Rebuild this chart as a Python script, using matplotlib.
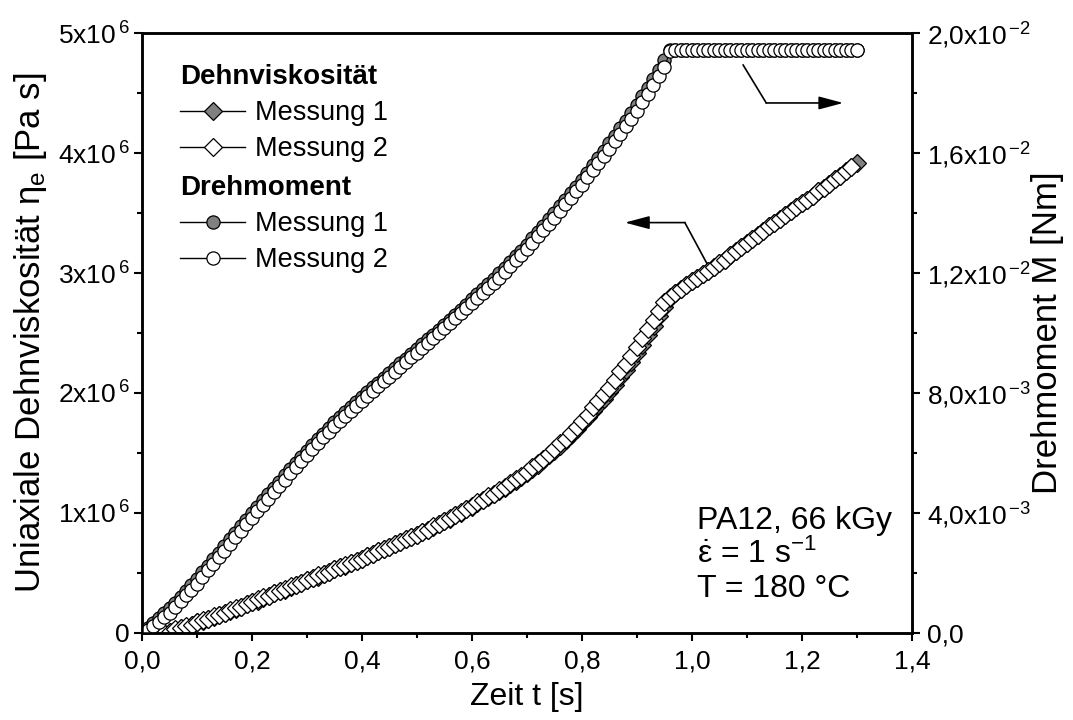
import numpy as np
import matplotlib
matplotlib.use("Agg")
import matplotlib.pyplot as plt
from matplotlib.lines import Line2D
from matplotlib.ticker import MultipleLocator, FuncFormatter

plt.rcParams['font.family'] = ['Liberation Sans', 'DejaVu Sans']
plt.rcParams['mathtext.fontset'] = 'custom'
plt.rcParams['mathtext.rm'] = 'Liberation Sans'
plt.rcParams['mathtext.it'] = 'Liberation Sans:italic'
plt.rcParams['mathtext.bf'] = 'Liberation Sans:bold'

# ---------------- data ----------------
# torque (Drehmoment), 1e-3 Nm, sampled every 0.01 s from 0.01 s to 1.30 s
t_torque = np.arange(1, 131) / 100.0
torque_m1 = [
    0.18, 0.34, 0.50, 0.66, 0.83, 1.01, 1.20, 1.40, 1.60, 1.80,
    2.02, 2.24, 2.46, 2.68, 2.90, 3.12, 3.34, 3.56, 3.78, 4.00,
    4.21, 4.42, 4.63, 4.84, 5.05, 5.26, 5.46, 5.67, 5.88, 6.08,
    6.27, 6.46, 6.65, 6.84, 7.02, 7.19, 7.36, 7.53, 7.70, 7.87,
    8.03, 8.19, 8.35, 8.51, 8.67, 8.83, 8.99, 9.15, 9.31, 9.47,
    9.63, 9.79, 9.95, 10.11, 10.27, 10.44, 10.61, 10.78, 10.95, 11.12,
    11.29, 11.46, 11.63, 11.81, 11.99, 12.18, 12.37, 12.56, 12.75, 12.95,
    13.16, 13.37, 13.58, 13.79, 14.00, 14.22, 14.44, 14.66, 14.88, 15.11,
    15.35, 15.59, 15.83, 16.07, 16.32, 16.57, 16.82, 17.07, 17.33, 17.60,
    17.89, 18.18, 18.47, 18.76, 19.10, 19.43, 19.43, 19.43, 19.43, 19.43,
    19.43, 19.43, 19.43, 19.43, 19.43, 19.43, 19.43, 19.43, 19.43, 19.43,
    19.43, 19.43, 19.43, 19.43, 19.43, 19.43, 19.43, 19.43, 19.43, 19.43,
    19.43, 19.43, 19.43, 19.43, 19.43, 19.43, 19.43, 19.43, 19.43, 19.43,
]
torque_m2 = [
    0.10, 0.24, 0.38, 0.53, 0.68, 0.87, 1.06, 1.26, 1.45, 1.65,
    1.87, 2.09, 2.31, 2.53, 2.75, 2.97, 3.19, 3.41, 3.63, 3.85,
    4.06, 4.27, 4.48, 4.69, 4.90, 5.11, 5.32, 5.53, 5.74, 5.95,
    6.14, 6.33, 6.52, 6.71, 6.90, 7.07, 7.24, 7.41, 7.58, 7.75,
    7.91, 8.07, 8.23, 8.39, 8.55, 8.71, 8.87, 9.03, 9.19, 9.35,
    9.51, 9.67, 9.83, 9.99, 10.15, 10.32, 10.49, 10.66, 10.83, 11.00,
    11.17, 11.34, 11.51, 11.68, 11.85, 12.04, 12.23, 12.42, 12.61, 12.80,
    13.01, 13.22, 13.43, 13.64, 13.85, 14.07, 14.29, 14.51, 14.73, 14.95,
    15.19, 15.43, 15.67, 15.91, 16.15, 16.40, 16.65, 16.90, 17.15, 17.40,
    17.69, 17.98, 18.27, 18.56, 18.85, 19.40, 19.43, 19.43, 19.43, 19.43,
    19.43, 19.43, 19.43, 19.43, 19.43, 19.43, 19.43, 19.43, 19.43, 19.43,
    19.43, 19.43, 19.43, 19.43, 19.43, 19.43, 19.43, 19.43, 19.43, 19.43,
    19.43, 19.43, 19.43, 19.43, 19.43, 19.43, 19.43, 19.43, 19.43, 19.43,
]

# uniaxial extensional viscosity, 1e6 Pa s
t_visc_m1 = np.arange(4, 131) / 100.0   # 0.04 ... 1.30 s
visc_m1 = [
    0.00, 0.01, 0.02, 0.04, 0.05, 0.07, 0.09, 0.10, 0.12, 0.13,
    0.15, 0.17, 0.18, 0.20, 0.22, 0.24, 0.26, 0.27, 0.29, 0.31,
    0.33, 0.35, 0.36, 0.38, 0.40, 0.42, 0.44, 0.46, 0.47, 0.49,
    0.51, 0.53, 0.55, 0.56, 0.58, 0.60, 0.62, 0.64, 0.66, 0.68,
    0.70, 0.72, 0.74, 0.76, 0.78, 0.80, 0.82, 0.84, 0.86, 0.88,
    0.91, 0.93, 0.95, 0.98, 1.00, 1.03, 1.05, 1.08, 1.11, 1.13,
    1.16, 1.18, 1.21, 1.24, 1.27, 1.30, 1.33, 1.37, 1.40, 1.44,
    1.48, 1.52, 1.56, 1.61, 1.65, 1.70, 1.75, 1.80, 1.85, 1.90,
    1.95, 2.01, 2.07, 2.13, 2.19, 2.26, 2.33, 2.40, 2.48, 2.56,
    2.64, 2.72, 2.79, 2.83, 2.87, 2.90, 2.93, 2.96, 2.99, 3.02,
    3.05, 3.08, 3.11, 3.15, 3.18, 3.22, 3.25, 3.28, 3.32, 3.35,
    3.39, 3.42, 3.45, 3.48, 3.52, 3.55, 3.58, 3.61, 3.64, 3.68,
    3.71, 3.74, 3.78, 3.81, 3.85, 3.88, 3.92,
]
t_visc_m2 = np.arange(4, 130) / 100.0   # 0.04 ... 1.29 s
visc_m2 = [
    0.00, 0.01, 0.03, 0.04, 0.06, 0.07, 0.09, 0.11, 0.12, 0.14,
    0.15, 0.17, 0.19, 0.21, 0.22, 0.24, 0.26, 0.28, 0.30, 0.31,
    0.33, 0.35, 0.37, 0.39, 0.40, 0.42, 0.44, 0.46, 0.48, 0.49,
    0.51, 0.53, 0.55, 0.57, 0.58, 0.60, 0.62, 0.64, 0.66, 0.68,
    0.70, 0.72, 0.74, 0.76, 0.78, 0.80, 0.82, 0.84, 0.86, 0.89,
    0.91, 0.93, 0.96, 0.98, 1.01, 1.03, 1.06, 1.09, 1.11, 1.14,
    1.16, 1.19, 1.22, 1.25, 1.28, 1.31, 1.34, 1.38, 1.42, 1.45,
    1.49, 1.53, 1.58, 1.62, 1.67, 1.72, 1.77, 1.82, 1.88, 1.93,
    1.99, 2.04, 2.11, 2.18, 2.24, 2.31, 2.38, 2.46, 2.53, 2.61,
    2.68, 2.76, 2.80, 2.83, 2.87, 2.90, 2.93, 2.96, 2.99, 3.02,
    3.05, 3.08, 3.11, 3.15, 3.18, 3.22, 3.25, 3.28, 3.32, 3.35,
    3.39, 3.42, 3.45, 3.48, 3.52, 3.55, 3.58, 3.61, 3.64, 3.68,
    3.71, 3.74, 3.78, 3.81, 3.85, 3.88,
]

x_ticks = [0.0, 0.2, 0.4, 0.6, 0.8, 1.0, 1.2, 1.4]
visc_ticks = [0, 1e6, 2e6, 3e6, 4e6, 5e6]
torque_ticks = [0.0, 0.004, 0.008, 0.012, 0.016, 0.020]

series_label_1 = "Messung 1"
series_label_2 = "Messung 2"
header_visc = "Dehnviskosität"
header_torque = "Drehmoment"
info_lines = ["PA12, 66 kGy",
              r"$\mathrm{\dot{\varepsilon}}$ = 1 s$^{\mathrm{-1}}$",
              "T = 180 °C"]

GRAY = "#808080"

# ---------------- figure ----------------
W, H = 1073, 720
fig = plt.figure(figsize=(W / 100, H / 100), dpi=100)
L, R, B, T = 142, 912, 633, 33
ax1 = fig.add_axes([L / W, 1 - B / H, (R - L) / W, (B - T) / H])
ax2 = ax1.twinx()


def fx(px):
    return px / W


def fy(py):
    return 1 - py / H


ax1.set_xlim(0, 1.4)
ax1.set_ylim(0, 5e6)
ax2.set_ylim(0, 0.02)

mk_common = dict(color="k", lw=0.8, mec="k", mew=0.9)
D_SIZE = 9.5
O_SIZE = 9.5

# viscosity curves (left axis)
ax1.plot(t_visc_m1, np.array(visc_m1) * 1e6, marker="D", ms=D_SIZE, mfc=GRAY, **mk_common)
ax1.plot(t_visc_m2, np.array(visc_m2) * 1e6, marker="D", ms=D_SIZE, mfc="white", **mk_common)

# torque curves (right axis)
ax2.plot(t_torque, np.array(torque_m1) * 1e-3, marker="o", ms=O_SIZE, mfc=GRAY, **mk_common)
ax2.plot(t_torque, np.array(torque_m2) * 1e-3, marker="o", ms=O_SIZE, mfc="white", **mk_common)

# ticks and formatting
ax1.xaxis.set_major_locator(plt.FixedLocator(x_ticks))
ax1.xaxis.set_minor_locator(MultipleLocator(0.1))
ax1.yaxis.set_major_locator(plt.FixedLocator(visc_ticks))
ax1.yaxis.set_minor_locator(MultipleLocator(0.5e6))
ax2.yaxis.set_major_locator(plt.FixedLocator(torque_ticks))
ax2.yaxis.set_minor_locator(MultipleLocator(0.002))

ax1.xaxis.set_major_formatter(FuncFormatter(lambda v, p: f"{v:.1f}".replace(".", ",")))


def visc_fmt(v, pos):
    if abs(v) < 1:
        return "0"
    return f"{int(round(v / 1e6))}x10$^{{\\,6}}$"


def torque_fmt(v, pos):
    if abs(v) < 1e-12:
        return "0,0"
    e = int(np.floor(np.log10(v) + 1e-9))
    m = v / 10 ** e
    return f"{m:.1f}".replace(".", ",") + "x10$^{\\,\\mathrm{-%d}}$" % (-e)


ax1.yaxis.set_major_formatter(FuncFormatter(visc_fmt))
ax2.yaxis.set_major_formatter(FuncFormatter(torque_fmt))

for ax in (ax1, ax2):
    for s in ax.spines.values():
        s.set_linewidth(1.8)

TICK_FS = 19
ax1.tick_params(axis="both", which="major", direction="out", length=6, width=1.5,
                labelsize=TICK_FS, top=False, right=False)
ax1.tick_params(axis="both", which="minor", direction="out", length=3.5, width=1.5,
                top=False, right=False)
ax1.tick_params(axis="x", which="major", pad=6)
ax1.tick_params(axis="y", which="major", pad=3)
ax2.tick_params(axis="y", which="major", direction="out", length=6, width=1.5,
                labelsize=TICK_FS, pad=5)
ax2.tick_params(axis="y", which="minor", direction="out", length=3.5, width=1.5)

# axis titles
fig.text(fx(527), fy(697), "Zeit t [s]", ha="center", va="center", fontsize=23)
fig.text(fx(31), fy(333), r"Uniaxiale Dehnviskosität $\mathrm{\eta_e}$ [Pa s]",
         ha="center", va="center", rotation=90, fontsize=25)
fig.text(fx(1048), fy(333), "Drehmoment M [Nm]", ha="center", va="center",
         rotation=90, fontsize=25)

# legend block
rows = [
    (header_visc, None, None, 84),
    (series_label_1, "D", GRAY, 120),
    (series_label_2, "D", "white", 156),
    (header_torque, None, None, 195),
    (series_label_1, "o", GRAY, 231),
    (series_label_2, "o", "white", 267),
]
for label, mk, fc, base in rows:
    if mk is None:
        fig.text(fx(180), fy(base), label, ha="left", va="baseline",
                 fontsize=20, fontweight="bold")
    else:
        yc = base - 9
        fig.add_artist(Line2D([fx(180), fx(245)], [fy(yc), fy(yc)], color="k",
                              lw=1.0, transform=fig.transFigure))
        fig.add_artist(Line2D([fx(213)], [fy(yc)], marker=mk,
                              ms=D_SIZE if mk == "D" else O_SIZE, mfc=fc, mec="k",
                              mew=0.9, transform=fig.transFigure))
        fig.text(fx(255), fy(base), label, ha="left", va="baseline", fontsize=19.5)

# arrows pointing to the respective axis
arrow_kw = dict(arrowstyle="-|>,head_length=1.5,head_width=0.4", lw=1.2, color="k",
                shrinkA=0, shrinkB=0, mutation_scale=10)
ax1.plot([1.027, 0.987], [3.08e6, 3.42e6], color="k", lw=1.2)
ax1.annotate("", xy=(0.878, 3.42e6), xytext=(0.987, 3.42e6), arrowprops=arrow_kw)
ax1.plot([1.093, 1.135], [4.733e6, 4.417e6], color="k", lw=1.2)
ax1.annotate("", xy=(1.275, 4.417e6), xytext=(1.135, 4.417e6), arrowprops=arrow_kw)

# measurement conditions
for txt, base in zip(info_lines, [529, 563, 597]):
    fig.text(fx(697), fy(base), txt, ha="left", va="baseline", fontsize=23)

fig.savefig("out.png", dpi=100)
